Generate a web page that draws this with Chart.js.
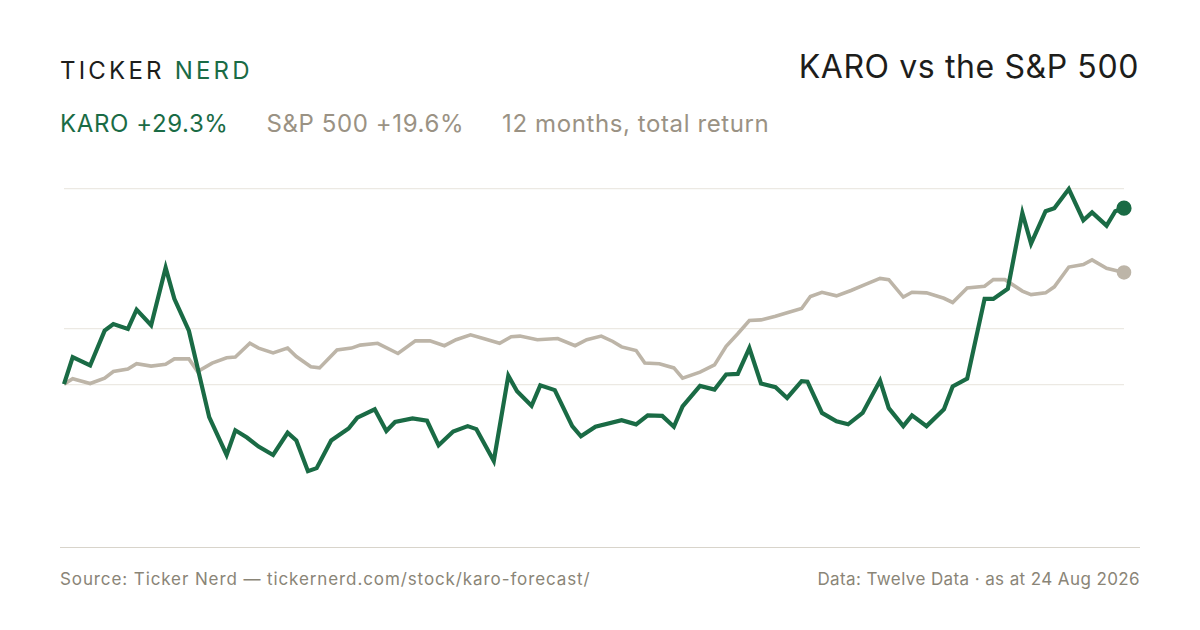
<!DOCTYPE html>
<html>
<head>
<meta charset="utf-8">
<script src="https://cdn.jsdelivr.net/npm/chart.js@4/dist/chart.umd.min.js"></script>
<style>
  body { margin: 0; width: 1200px; height: 630px; background: #fff; font-family: Inter, "Noto Sans", sans-serif; position: relative; overflow: hidden; }
  .abs { position: absolute; white-space: nowrap; }
  #brand { left: 60px; top: 56px; font-size: 24px; letter-spacing: 3.2px; color: #1d1d1b; }
  #brand span { color: #1a6b45; }
  #title { right: 61px; top: 47px; font-size: 32px; letter-spacing: 0.6px; color: #1d1d1b; }
  #sub { left: 60px; top: 109px; font-size: 24px; letter-spacing: 0.6px; color: #9a9284; }
  #sub .k { color: #1a6b45; margin-right: 38px; }
  #sub .s { margin-right: 38px; }
  #base { left: 60px; top: 547px; width: 1080px; height: 1px; background: #d8d4cb; }
  .foot { top: 569px; font-size: 17px; letter-spacing: 0.9px; color: #8a8577; }
  canvas { position: absolute; left: 0; top: 0; }
</style>
</head>
<body>
<div class="abs" id="brand">TICKER <span>NERD</span></div>
<div class="abs" id="title">KARO vs the S&amp;P 500</div>
<div class="abs" id="sub"><span class="k">KARO +29.3%</span><span class="s">S&amp;P 500 +19.6%</span>12 months, total return</div>
<div class="abs" id="base"></div>
<div class="abs foot" style="left:60px">Source: Ticker Nerd — tickernerd.com/stock/karo-forecast/</div>
<div class="abs foot" style="right:60px;letter-spacing:0.4px">Data: Twelve Data · as at 24 Aug 2026</div>
<canvas id="c" width="1200" height="630"></canvas>
<script>
// day offsets and % return
const karoDays = [0,3,9,14,17,22,25,30,35,38,43,50,56,59,63,67,72,77,80,84,87,92,98,101,107,111,114,120,125,129,134,139,142,148,153,156,161,164,169,175,178,183,192,197,201,206,210,213,219,224,228,232,236,240,245,249,254,256,261,266,270,275,281,284,289,292,297,303,306,311,317,320,325,330,333,338,341,346,351,354,359,362,365];
const karoRet = [0,4.5,3.1,8.9,10.0,9.2,12.4,9.8,19.4,14.2,8.9,-5.5,-11.8,-7.7,-8.9,-10.4,-11.8,-8.1,-9.4,-14.5,-14.0,-9.4,-7.4,-5.6,-4.2,-7.8,-6.3,-5.7,-6.1,-10.2,-7.9,-7.0,-7.5,-12.8,1.4,-1.2,-3.6,-0.2,-1.0,-7.0,-8.7,-7.1,-6.0,-6.7,-5.2,-5.3,-7.1,-3.7,-0.3,-0.9,1.6,1.7,6.0,0.1,-0.5,-2.3,0.5,0.4,-4.8,-6.2,-6.7,-4.8,0.6,-4.0,-7.0,-5.2,-7.0,-4.2,-0.4,0.9,14.2,14.2,15.9,28.5,23.4,28.8,29.3,32.5,27.3,28.6,26.4,28.8,29.3];
const spxDays = [0,3,9,14,17,22,25,30,35,38,43,46,51,56,59,64,67,72,77,80,85,88,94,99,102,108,115,121,126,131,135,140,145,150,154,157,163,170,176,180,185,189,192,197,200,205,210,213,219,224,228,232,236,240,245,249,254,257,261,266,271,276,281,284,289,292,297,303,306,311,317,320,324,330,333,338,341,346,351,354,359,365];
const spxRet = [0,0.9,0.1,1.0,2.1,2.5,3.4,3.0,3.3,4.2,4.2,2.1,3.5,4.4,4.5,6.8,6.0,5.2,6.0,4.6,2.9,2.7,5.7,6.0,6.5,6.8,5.1,7.2,7.2,6.4,7.4,8.2,7.5,6.8,7.9,8.0,7.4,7.6,6.4,7.4,8.0,7.1,6.2,5.6,3.5,3.4,2.7,1.0,2.0,3.2,6.3,8.4,10.6,10.7,11.3,11.9,12.6,14.6,15.3,14.7,15.6,16.6,17.6,17.4,14.5,15.3,15.2,14.3,13.6,16.0,16.3,17.4,17.4,15.5,14.9,15.2,16.2,19.5,19.9,20.7,19.3,18.6];
const gridTicks = [0, 9.2, 32.5];

const toXY = (d, v) => d.map((x, i) => ({ x: x, y: v[i] }));
const lastDot = n => ctx => ctx.dataIndex === n - 1 ? 5.5 : 0;

new Chart(document.getElementById('c'), {
  type: 'line',
  data: {
    datasets: [
      { data: toXY(karoDays, karoRet), borderColor: '#1a6b45', backgroundColor: '#1a6b45', borderWidth: 4.2, pointRadius: lastDot(karoDays.length), tension: 0, clip: false },
      { data: toXY(spxDays, spxRet), borderColor: '#bdb5a8', backgroundColor: '#bdb5a8', borderWidth: 3.6, pointRadius: lastDot(spxDays.length), tension: 0, clip: false }
    ]
  },
  options: {
    responsive: false,
    animation: false,
    layout: { padding: { left: 64, right: 76, top: 189, bottom: 82 } },
    plugins: { legend: { display: false }, tooltip: { enabled: false } },
    scales: {
      x: { type: 'linear', min: 0, max: 365, display: false },
      y: {
        min: -27.3, max: 32.5,
        afterBuildTicks: axis => { axis.ticks = gridTicks.map(v => ({ value: v })); },
        ticks: { display: false },
        border: { display: false },
        grid: { color: '#ece9e3', lineWidth: 1.2, drawTicks: false }
      }
    }
  }
});
</script>
</body>
</html>
